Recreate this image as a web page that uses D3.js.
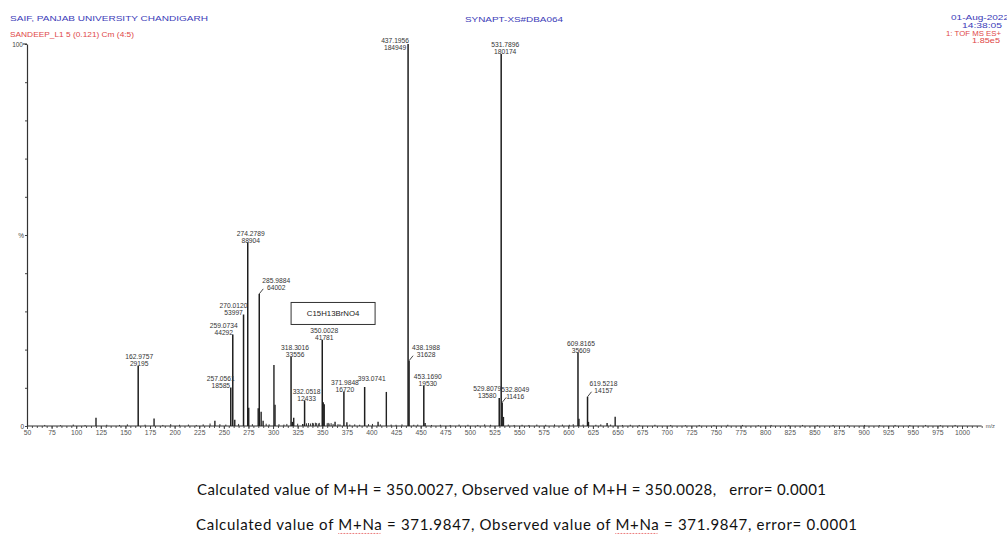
<!DOCTYPE html>
<html>
<head>
<meta charset="utf-8">
<script src="https://cdn.jsdelivr.net/npm/d3@7"></script>
<style>
  body { margin: 0; background: #fff; }
  svg { display: block; }
  .hdr { font-family: "Liberation Sans", Arial, sans-serif; }
  .tick text { font-family: "Liberation Sans", Arial, sans-serif; }
</style>
</head>
<body>
<svg id="chart" width="1007" height="534"></svg>
<script>
// ---- Spectrum data -------------------------------------------------------
// Full-scale intensity of the spectrum (100 %)
const fullScale = 185000;

// Annotated peaks: m/z and absolute intensity
const peakMz  = [162.9757, 257.0561, 259.0734, 270.0120, 274.2789, 285.9884, 318.3016, 332.0518,
                 350.0028, 371.9848, 393.0741, 437.1956, 438.1988, 453.1690, 529.8079, 531.7896,
                 532.8049, 609.8165, 619.5218];
const peakInt = [29195, 18585, 44292, 53997, 88904, 64002, 33556, 12433,
                 41781, 16720, 18900, 184949, 31628, 19530, 13580, 180174,
                 11416, 35609, 14157];
// peaks whose intensity is not printed under the m/z value
const intensityHidden = [393.0741];

// Smaller, unannotated peaks
const minorMz  = [120.1, 179.1, 240.9, 261.1, 275.3, 284.9, 287.9, 289.9, 300.9, 302.0, 319.6, 321.0,
                  330.2, 351.0, 352.0, 363.0, 375.0, 406.7, 415.1, 454.5, 534.1, 610.8, 620.5, 639.4, 647.6];
const minorInt = [4000, 3600, 2600, 3000, 8800, 8600, 6900, 2600, 29500, 10300, 2000, 4000,
                  1000, 11500, 10500, 2000, 1800, 2000, 16500, 1500, 4400, 3500, 2000, 1500, 4500];

// Baseline noise
const noiseMz  = [68, 84, 97, 109, 131, 144, 152, 170, 188, 196, 205, 214, 222, 229, 236, 246, 252, 265,
                  279, 293, 296, 306, 311, 314, 325, 334, 336, 338, 340, 341, 343, 344, 346, 347, 355, 356,
                  357, 359, 361, 366, 368, 378, 383, 388, 397, 401, 409, 420, 425, 431, 443, 447, 461,
                  470, 480, 489, 498, 508, 515, 521, 539, 545, 553, 560, 568, 577, 586, 594, 601, 605,
                  615, 628, 633, 643, 655, 663, 672, 688, 704, 719, 733, 748, 762, 777, 793, 806, 824,
                  838, 853, 869, 884, 901, 916, 932, 947, 963, 978, 993];
const noiseInt = [500, 400, 700, 450, 600, 500, 800, 650, 500, 900, 600, 700, 500, 800, 1200, 900, 700, 1000,
                  900, 1100, 800, 900, 700, 1000, 1100, 1300, 1400, 1200, 1500, 1300, 1600, 1400, 1200, 1500, 1300, 1500,
                  1200, 1400, 1000, 900, 800, 700, 800, 600, 900, 1000, 800, 700, 600, 800, 600, 700, 500,
                  600, 500, 700, 600, 500, 800, 600, 700, 500, 600, 500, 700, 600, 800, 700, 600, 900,
                  700, 600, 800, 700, 500, 600, 500, 600, 500, 400, 500, 400, 600, 500, 400, 500, 400,
                  500, 400, 500, 400, 500, 400, 500, 400, 500, 400, 500];

// Axis ticks
const xTickValues = d3.range(50, 1001, 25);
const xMinorValues = d3.range(50, 1021, 5);
const yTickPercent = d3.range(0, 101, 10);

// Header and footer texts
const instituteText = "SAIF, PANJAB UNIVERSITY CHANDIGARH";
const sampleText = "SANDEEP_L1 5 (0.121) Cm (4:5)";
const instrumentText = "SYNAPT-XS#DBA064";
const dateText = "01-Aug-2022";
const timeText = "14:38:05";
const scanText = "1: TOF MS ES+";
const scaleText = "1.85e5";
const formulaText = "C15H13BrNO4";
const line1Parts = [["Calculated value of M+H = 350.0027, Observed value of M+H = 350.0028,   error= 0.0001", false]];
const line2Parts = [["Calculated value of ", false], ["M+Na", true], [" = 371.9847, Observed value of ", false],
                    ["M+Na", true], [" = 371.9847, error= 0.0001", false]];

// ---- Label layout (horizontal nudge in px, leader line, vertical shift) ----
const labelDx     = [1, -10, -9, -10, 3, 17, 4, 2, 2, 1, 7, -13, 17, 4, -12, 4, 13, 3, 16];
const labelLeader = [0, 0, 0, 0, 0, 1, 0, 0, 0, 0, 0, 0, 1, 0, 0, 0, 1, 0, 1];
const labelDy     = [0, 0, 0, 0, 0, 0, 0, 0, 0, 0, -5, 5, 0, 0, 0, 0, 0, 0, 0];

// ---- Drawing -------------------------------------------------------------
const svg = d3.select("#chart");
const font = "'Liberation Sans', Arial, sans-serif";

const x = d3.scaleLinear().domain([50, 1000]).range([27, 962]);
const y = d3.scaleLinear().domain([0, fullScale]).range([426, 44]);
const y0 = y(0);

// header
const blue = "#3b3bb8", red = "#e04848";
function hdr(text, xx, yy, size, color, anchor, len) {
  const t = svg.append("text").attr("class", "hdr")
    .attr("x", xx).attr("y", yy).attr("font-size", size)
    .attr("fill", color).attr("text-anchor", anchor || "start").text(text);
  if (len) t.attr("textLength", len).attr("lengthAdjust", "spacingAndGlyphs");
  return t;
}
hdr(instituteText, 10, 21, 7.8, blue, "start", 198);
hdr(sampleText, 10, 36.5, 6.4, red, "start", 124);
hdr(instrumentText, 465, 21.5, 7.4, blue, "start", 98);
hdr(dateText, 1009, 20, 7.6, blue, "end", 58);
hdr(timeText, 1002, 28, 7.6, blue, "end", 40);
hdr(scanText, 1001, 35.5, 7, red, "end", 55);
hdr(scaleText, 1000, 42.5, 7, red, "end", 28);

// y axis
const gy = svg.append("g").attr("transform", `translate(${x(50)},0)`);
gy.call(d3.axisLeft(y)
  .tickValues(yTickPercent.map(p => fullScale * p / 100))
  .tickSize(2).tickSizeOuter(0).tickFormat(""));
gy.select(".domain").attr("stroke", "#333").attr("stroke-width", 1.2);
gy.selectAll(".tick line").attr("stroke", "#444");
svg.append("line").attr("x1", x(50) - 4).attr("x2", x(50)).attr("y1", y(fullScale)).attr("y2", y(fullScale))
  .attr("stroke", "#333").attr("stroke-width", 1.1);
svg.append("text").attr("x", x(50) - 4).attr("y", y(fullScale) + 3)
  .attr("text-anchor", "end").attr("font-family", font).attr("font-size", 6.5).attr("fill", "#444").text("100");
svg.append("text").attr("x", x(50) - 3).attr("y", y(0) + 2.5)
  .attr("text-anchor", "end").attr("font-family", font).attr("font-size", 6.5).attr("fill", "#444").text("0");
svg.append("text").attr("x", x(50) - 3).attr("y", y(fullScale / 2) + 2.5)
  .attr("text-anchor", "end").attr("font-family", font).attr("font-size", 6.5).attr("fill", "#444").text("%");

// x axis
const gxMinor = svg.append("g").attr("transform", `translate(0,${y0})`);
gxMinor.call(d3.axisBottom(x).tickValues(xMinorValues).tickSize(2).tickSizeOuter(0).tickFormat(""));
gxMinor.select(".domain").remove();
gxMinor.selectAll(".tick line").attr("stroke", "#555");

const gx = svg.append("g").attr("transform", `translate(0,${y0})`);
gx.call(d3.axisBottom(x).tickValues(xTickValues).tickSize(3).tickSizeOuter(0).tickPadding(1.5)
  .tickFormat(d3.format("d")));
gx.select(".domain").remove();
gx.selectAll(".tick line").attr("stroke", "#444");
gx.selectAll(".tick text").attr("font-size", 6.8).attr("fill", "#555");

svg.append("line").attr("x1", x(50)).attr("x2", x(1020)).attr("y1", y0).attr("y2", y0)
  .attr("stroke", "#333").attr("stroke-width", 1.2);
svg.append("text").attr("x", x(1021) + 3).attr("y", y0 + 2)
  .attr("font-family", font).attr("font-size", 5.8).attr("fill", "#555").text("m/z");

// peaks
function stick(mz, inten, w, color) {
  return svg.append("line")
    .attr("x1", x(mz)).attr("x2", x(mz))
    .attr("y1", y0).attr("y2", y(inten))
    .attr("stroke", color).attr("stroke-width", w);
}
noiseMz.forEach((m, i) => stick(m, noiseInt[i], 1, "#333"));
minorMz.forEach((m, i) => stick(m, minorInt[i], 1.4, "#222"));
peakMz.forEach((m, i) => stick(m, peakInt[i], 1.5, "#1e1e1e"));

// peak labels
const fmtMz = d3.format(".4f"), fmtInt = d3.format("d");
peakMz.forEach((m, i) => {
  const px = x(m), top = y(peakInt[i]);
  const cx = px + labelDx[i];
  let base2 = top + 0.5 + labelDy[i];
  if (labelLeader[i]) {
    base2 = top - 3.5;
    svg.append("line").attr("x1", px).attr("y1", top).attr("x2", px + 4).attr("y2", top - 5)
      .attr("stroke", "#333").attr("stroke-width", 0.9);
  }
  const showInt = !intensityHidden.includes(m);
  const base1 = showInt ? base2 - 7 : base2 - 1;
  svg.append("text").attr("x", cx).attr("y", base1).attr("text-anchor", "middle")
    .attr("font-family", font).attr("font-size", 6.7).attr("fill", "#333").text(fmtMz(m));
  if (showInt) {
    svg.append("text").attr("x", cx).attr("y", base2).attr("text-anchor", "middle")
      .attr("font-family", font).attr("font-size", 6.7).attr("fill", "#333").text(fmtInt(peakInt[i]));
  }
});

// formula box near the molecular ion
const boxCx = x(361), boxCy = y(54500);
svg.append("rect").attr("x", boxCx - 42).attr("y", boxCy - 11).attr("width", 84).attr("height", 22)
  .attr("fill", "#fff").attr("stroke", "#333").attr("stroke-width", 1);
svg.append("text").attr("x", boxCx).attr("y", boxCy + 3).attr("text-anchor", "middle")
  .attr("font-family", font).attr("font-size", 7.8).attr("fill", "#222").text(formulaText);

// footer lines
function footer(parts, xx, yy, len) {
  const t = svg.append("text").attr("x", xx).attr("y", yy)
    .attr("font-family", "Lato, 'Open Sans', sans-serif").attr("font-size", 15).attr("fill", "#111")
    .attr("textLength", len).attr("lengthAdjust", "spacing")
    .style("white-space", "pre");
  parts.forEach(([s]) => t.append("tspan").text(s));
  // red wavy underline under flagged words
  const node = t.node();
  let idx = 0;
  parts.forEach(([s, flag]) => {
    if (flag) {
      const a = node.getStartPositionOfChar(idx).x;
      const b = node.getEndPositionOfChar(idx + s.length - 1).x;
      const pts = [];
      for (let xx2 = a, k = 0; xx2 <= b; xx2 += 1.5, k++) pts.push([xx2, yy + 3.5 + (k % 2 ? 1 : 0)]);
      svg.append("path").attr("d", d3.line()(pts)).attr("fill", "none")
        .attr("stroke", "#e03030").attr("stroke-width", 0.8);
    }
    idx += s.length;
  });
}
footer(line1Parts, 197, 495, 629);
footer(line2Parts, 196, 530, 661);
</script>
</body>
</html>
